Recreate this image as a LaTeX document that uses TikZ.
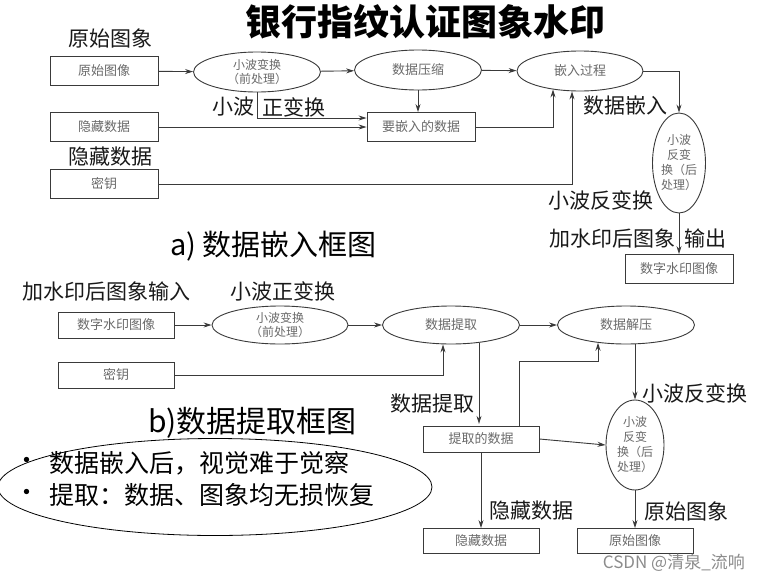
\documentclass[tikz,border=0pt]{standalone}
\usepackage{fontspec}
\setmainfont{Noto Sans CJK SC}
\usetikzlibrary{arrows.meta,shapes.geometric}
\definecolor{linec}{HTML}{3A3A3A}
\definecolor{txtg}{HTML}{6A6A6A}
\tikzset{
  lbl/.style={font=\fontsize{21}{24}\selectfont, inner sep=0pt, text=black!90},
  boxn/.style={draw=linec, line width=0.9pt, minimum width=108pt, minimum height=29pt, inner sep=0pt, font=\fontsize{13}{14}\selectfont, text=txtg},
  elln/.style={ellipse, draw=linec, line width=0.9pt, inner sep=0pt, align=center, font=\fontsize{12}{14}\selectfont, text=txtg},
  conn/.style={draw=linec, line width=0.9pt},
  arr/.style={conn, -{Stealth[length=8pt,width=5pt]}},
  bullettxt/.style={font=\fontsize{25}{28}\selectfont, inner sep=0pt, anchor=west},
}
\begin{document}
\begin{tikzpicture}[x=1pt,y=-1pt]
\useasboundingbox[fill=white] (0,0) rectangle (760,581);
% title
\node[font=\fontsize{36}{40}\selectfont\bfseries, inner sep=0pt] (title) at (425,22) {银行指纹认证图象水印};
% ---------- part a ----------
\node[boxn] (a1) at (104,71) {原始图像};
\node[boxn] (a2) at (104,127) {隐藏数据};
\node[boxn] (a3) at (104,184) {密钥};
\node[elln, minimum width=127pt, minimum height=40pt] (e1) at (257,72) {小波变换\\（前处理）};
\node[elln, minimum width=127pt, minimum height=40pt, font=\fontsize{13}{14}\selectfont] (e2) at (418,70) {数据压缩};
\node[elln, minimum width=126pt, minimum height=40pt, font=\fontsize{13}{14}\selectfont] (e3) at (580,71) {嵌入过程};
\node[boxn] (a4) at (421,127) {要嵌入的数据};
\node[elln, minimum width=53pt, minimum height=100pt, font=\fontsize{12}{15}\selectfont] (e4) at (679,163) {小波\\反变\\换（后\\处理）};
\node[boxn] (a5) at (679,269) {数字水印图像};

\draw[arr] (a1) -- (e1);
\draw[arr] (e1) -- (e2);
\draw[arr] (e2) -- (e3);
\draw[arr] (e3.east) -| (e4.north);
\draw[arr] (e2.south) -- (e2.south |- a4.north);
\draw[arr] (e1.south) |- ([yshift=9pt]a4.west);
\draw[arr] (a2.east) -- (a2.east -| a4.west);
\draw[arr] (a3.east) -| ([xshift=-8pt]e3.south);
\draw[arr] (a4.east) -| ([xshift=-27pt,yshift=2pt]e3.south);
\draw[arr] (e4.south) -- (a5.north);

\node[lbl] (la1) at (110,38) {原始图象};
\node[lbl] (la2) at (110,157) {隐藏数据};
\node[lbl, anchor=east] (la3) at (255,107) {小波};
\node[lbl, anchor=west] (la4) at (262,107) {正变换};
\node[lbl] (la5) at (625,106) {数据嵌入};
\node[lbl] (la6) at (601,200) {小波反变换};
\node[lbl, anchor=east] (la7) at (676,238) {加水印后图象};
\node[lbl, anchor=west] (la8) at (684,238) {输出};
\node[font=\fontsize{29}{32}\selectfont, inner sep=0pt, anchor=west] (capa) at (170,246) {a) 数据嵌入框图};

% ---------- part b ----------
\node[lbl] (lb1) at (107,291) {加水印后图象输入};
\node[lbl] (lb2) at (283,291) {小波正变换};
\node[boxn, minimum width=116pt, minimum height=26pt] (b1) at (116,325) {数字水印图像};
\node[boxn, minimum width=116pt, minimum height=26pt] (b2) at (116,375) {密钥};
\node[elln, minimum width=136pt, minimum height=38pt] (f1) at (280,325) {小波变换\\（前处理）};
\node[elln, minimum width=137pt, minimum height=38pt, font=\fontsize{13}{14}\selectfont] (f2) at (451,325) {数据提取};
\node[elln, minimum width=137pt, minimum height=38pt, font=\fontsize{13}{14}\selectfont] (f3) at (626,325) {数据解压};
\node[boxn, minimum width=116pt, minimum height=26pt] (b3) at (481,439) {提取的数据};
\node[elln, minimum width=58pt, minimum height=90pt, font=\fontsize{12}{15}\selectfont] (f4) at (635,445) {小波\\反变\\换（后\\处理）};
\node[boxn, minimum width=116pt, minimum height=25pt] (b4) at (481,541) {隐藏数据};
\node[boxn, minimum width=116pt, minimum height=25pt] (b5) at (635,541) {原始图像};
\coordinate (bend) at (598,361);

\draw[arr] (b1) -- (f1);
\draw[arr] (f1) -- (f2);
\draw[arr] (f2) -- (f3);
\draw[arr] (b2.east) -| ([xshift=-8pt]f2.south);
\draw[arr] ([xshift=28pt,yshift=1.7pt]f2.south) -- ([xshift=28pt,yshift=1.7pt]f2.south |- b3.north);
\draw[arr] ([xshift=38pt]b3.north) |- (bend) -- ([xshift=-28pt,yshift=1.7pt]f3.south);
\draw[arr] (f4.north |- f3.south) -- (f4.north);
\draw[arr] (b3.east) -- (f4.west);
\draw[arr] (f4.south) -- (b5.north);
\draw[arr] (b3.south) -- (b4.north);

\node[lbl] (lb3) at (432,404) {数据提取};
\node[lbl] (lb4) at (695,393) {小波反变换};
\node[lbl] (lb5) at (531,511) {隐藏数据};
\node[lbl] (lb6) at (686,511) {原始图象};
\node[font=\fontsize{30}{32}\selectfont, inner sep=0pt, anchor=west] (capb) at (148,423) {b)数据提取框图};

\node[ellipse, draw=black, line width=0.8pt, minimum width=434pt, minimum height=97pt, inner sep=0pt] (note) at (215,487) {};
\node[bullettxt] (d1) at (14,463) {•};
\node[bullettxt] (n1) at (49,463) {数据嵌入后，视觉难于觉察};
\node[bullettxt] (d2) at (14,495) {•};
\node[bullettxt] (n2) at (49,495) {提取：数据、图象均无损恢复};

\node[font=\fontsize{17}{18}\selectfont, text=black!45, inner sep=0pt, anchor=east] (wm) at (745,563) {CSDN @清泉\_流响};
\end{tikzpicture}
\end{document}
